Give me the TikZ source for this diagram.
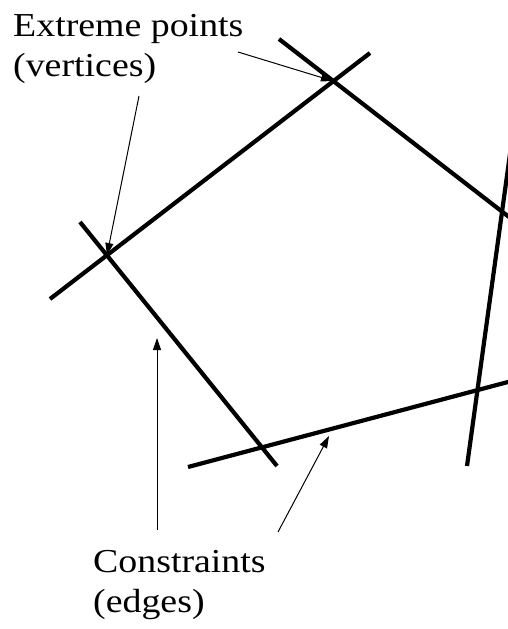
\documentclass[tikz,border=0pt]{standalone}
\usepackage{fontspec}
\newfontfamily\lblfont[FakeStretch=1.13]{Liberation Serif}
\usetikzlibrary{arrows.meta}
\tikzset{
  edge/.style={line width=4.2pt, black},
  pointer/.style={line width=1pt, black, -{Triangle[length=12pt,width=8pt]}},
  lbl/.style={anchor=base west, inner sep=0pt, font=\lblfont\fontsize{33.5}{40}\selectfont}
}
\begin{document}
\begin{tikzpicture}[x=1pt,y=-1pt]
\useasboundingbox (0,0) rectangle (508,629);
\clip (0,0) rectangle (508,629);
\fill[white] (0,0) rectangle (508,629);
% constraint lines
\draw[edge] (50,299) -- (370,53);
\draw[edge] (279,39) -- (520,225.5);
\draw[edge] (467,466) -- (513.3,130);
\draw[edge] (188,467) -- (520,378.8);
\draw[edge] (80,222) -- (277,466);
% vertices and edge points
\coordinate (v1) at (107,255);
\coordinate (v2) at (333,81);
\coordinate (e1) at (157,338);
\coordinate (e2) at (329,436);
% labels
\node[lbl] (t1) at (13,36) {Extreme points};
\node[lbl] (t2) at (13,76) {(vertices)};
\node[lbl] (t3) at (93,572) {Constraints};
\node[lbl] (t4) at (93,612) {(edges)};
% pointer start points
\coordinate (s1) at (238,52);
\coordinate (s2) at (139,96);
\coordinate (s3) at (157,530);
\coordinate (s4) at (278,532);
\draw[pointer] (s1) -- (v2);
\draw[pointer] (s2) -- (v1);
\draw[pointer] (s3) -- (e1);
\draw[pointer] (s4) -- (e2);
\end{tikzpicture}
\end{document}
